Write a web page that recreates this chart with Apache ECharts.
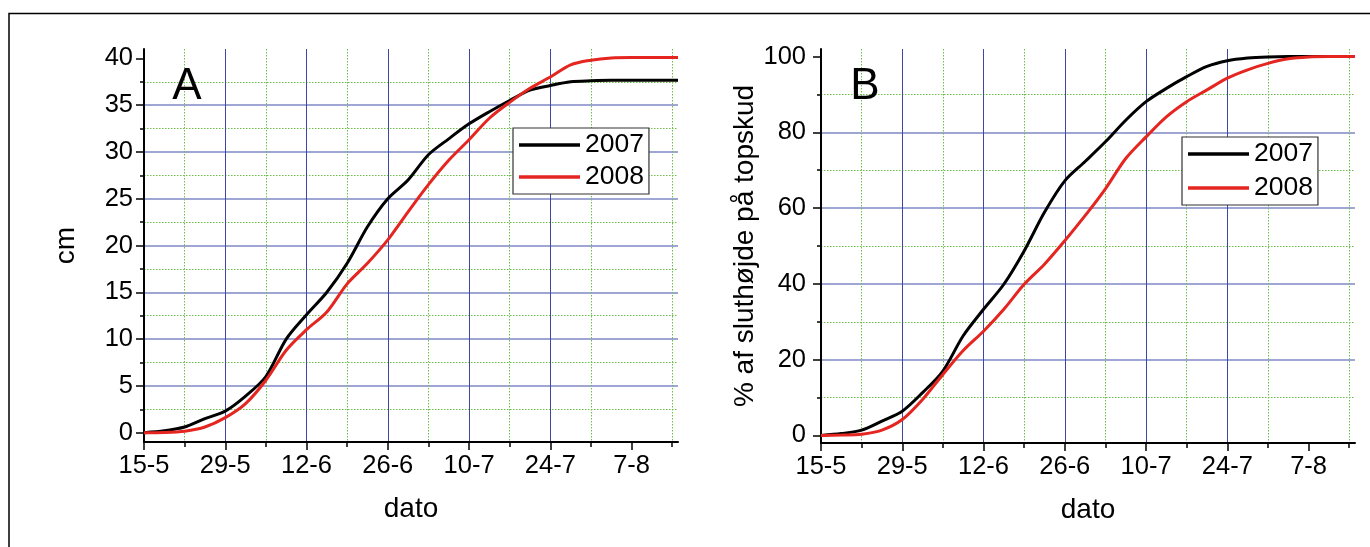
<!DOCTYPE html>
<html>
<head>
<meta charset="utf-8">
<script src="https://cdn.jsdelivr.net/npm/echarts@6/dist/echarts.min.js"></script>
<style>
  html, body { margin: 0; padding: 0; background: #fff; }
  #chart { width: 1370px; height: 547px; }
</style>
</head>
<body>
<div id="chart"></div>
<script>
// days after 15-5
const days = [0, 3.5, 7, 10.5, 14, 17.5, 21, 24.5, 28, 31.5, 35, 38.5, 42, 45.5, 49, 52.5, 56, 59.5, 63, 66.5, 70, 73.5, 77, 80.5, 84, 87.5, 92];
const dateTicks = [0, 14, 28, 42, 56, 70, 84];
const dateLabels = ['15-5', '29-5', '12-6', '26-6', '10-7', '24-7', '7-8'];
const years = ['2007', '2008'];

// A: height in cm
const height2007 = [0, 0.2, 0.6, 1.5, 2.3, 3.9, 6.0, 10.0, 12.6, 15.0, 18.1, 22.0, 25.0, 27.0, 29.7, 31.4, 33.0, 34.3, 35.5, 36.6, 37.1, 37.5, 37.6, 37.65, 37.65, 37.65, 37.65];
const height2008 = [0, 0.02, 0.15, 0.6, 1.6, 3.1, 5.6, 8.8, 11.0, 12.9, 15.9, 18.1, 20.6, 23.6, 26.5, 29.1, 31.3, 33.6, 35.3, 36.8, 38.0, 39.3, 39.8, 40.05, 40.1, 40.1, 40.1];

// B: % of final height
const pct2007 = [0, 0.5, 1.4, 3.8, 6.4, 11.3, 17.0, 26.3, 33.3, 39.9, 48.7, 58.9, 67.2, 72.3, 77.5, 83.2, 88.1, 91.6, 94.7, 97.4, 98.9, 99.6, 99.9, 100, 100, 100, 100];
const pct2008 = [0, 0.1, 0.3, 1.4, 4.2, 9.5, 16.1, 22.4, 27.5, 33.3, 39.9, 45.2, 51.4, 58.0, 65.1, 73.1, 78.8, 84.1, 88.1, 91.2, 94.3, 96.5, 98.2, 99.4, 99.9, 100, 100];

const cmTicks = [0, 5, 10, 15, 20, 25, 30, 35, 40];
const pctTicks = [0, 20, 40, 60, 80, 100];

const FONT = '"Liberation Sans", Arial, Helvetica, sans-serif';
const chart = echarts.init(document.getElementById('chart'));

function pairs(vals) {
  return days.map((d, i) => [d, vals[i]]);
}

function xAxisFor(gridIndex) {
  return {
    type: 'value', gridIndex: gridIndex,
    min: 0, max: 92, minInterval: 14, maxInterval: 14,
    name: 'dato', nameLocation: 'middle', nameGap: 53,
    nameTextStyle: { fontSize: 28, color: '#000', fontFamily: FONT },
    axisLine: { onZero: false, lineStyle: { color: '#000', width: 2 } },
    axisTick: { customValues: dateTicks, length: 8, lineStyle: { color: '#000', width: 1.5 } },
    minorTick: { show: true, splitNumber: 2, length: 5, lineStyle: { color: '#000', width: 1.5 } },
    axisLabel: {
      customValues: dateTicks, margin: 11, fontSize: 25.5, color: '#000', fontFamily: FONT,
      formatter: v => { const i = dateTicks.indexOf(v); return i < 0 ? '' : dateLabels[i]; }
    },
    splitLine: { show: true, showMinLine: false, showMaxLine: false, lineStyle: { color: '#3f47a6', width: 1 } },
    minorSplitLine: { show: true, lineStyle: { color: '#6cc04a', width: 1, type: [1.5, 1.5] } }
  };
}

function yAxisFor(gridIndex, min, max, step, ticks, name, nameGap, margin) {
  return {
    type: 'value', gridIndex: gridIndex,
    min: min, max: max, minInterval: step, maxInterval: step,
    name: name, nameLocation: 'middle', nameGap: nameGap,
    nameTextStyle: { fontSize: 28, color: '#000', fontFamily: FONT },
    axisLine: { onZero: false, lineStyle: { color: '#000', width: 2 } },
    axisTick: { customValues: ticks, length: 8, lineStyle: { color: '#000', width: 1.5 } },
    minorTick: { show: true, splitNumber: 2, length: 4, lineStyle: { color: '#000', width: 1.5 } },
    axisLabel: { customValues: ticks, margin: margin, fontSize: 25.5, color: '#000', fontFamily: FONT },
    splitLine: { show: true, showMinLine: false, showMaxLine: false, lineStyle: { color: '#8088c6', width: 1.6 } },
    minorSplitLine: { show: true, lineStyle: { color: '#6cc04a', width: 1, type: [1.5, 1.5] } }
  };
}

function lineSeries(name, color, xi, vals) {
  return {
    type: 'line', name: name, xAxisIndex: xi, yAxisIndex: xi,
    data: pairs(vals), symbol: 'none', smooth: 0.3,
    lineStyle: { color: color, width: 3 }, itemStyle: { color: color },
    z: 3
  };
}

function legendAt(left, top, gap) {
  return {
    data: years, left: left, top: top, orient: 'vertical',
    icon: 'rect', itemWidth: 61, itemHeight: 3.5, itemGap: gap,
    padding: [3, 5, 3, 6],
    borderColor: '#333', borderWidth: 1.2, backgroundColor: '#fff',
    textStyle: { fontSize: 26.5, color: '#000', fontFamily: FONT, lineHeight: 28 },
    selectedMode: false, z: 10
  };
}

chart.setOption({
  animation: false,
  backgroundColor: '#fff',
  grid: [
    { left: 144, top: 49, width: 534, height: 393 },
    { left: 821, top: 49, width: 534, height: 394 }
  ],
  xAxis: [xAxisFor(0), xAxisFor(1)],
  yAxis: [
    yAxisFor(0, -1, 41, 5, cmTicks, 'cm', 64, 11),
    yAxisFor(1, -2, 102, 20, pctTicks, '% af sluthøjde på topskud', 60, 15)
  ],
  legend: [legendAt(513, 128, 4), legendAt(1182, 137, 6)],
  series: [
    lineSeries(years[0], '#000000', 0, height2007),
    lineSeries(years[1], '#e5251f', 0, height2008),
    lineSeries(years[0], '#000000', 1, pct2007),
    lineSeries(years[1], '#e5251f', 1, pct2008)
  ],
  graphic: [
    { type: 'rect', silent: true, shape: { x: 9, y: 13.5, width: 1400, height: 600 },
      style: { fill: null, stroke: '#000', lineWidth: 1.5 } },
    { type: 'text', x: 187, y: 87, silent: true, z: 20,
      style: { text: 'A', fontSize: 44, fontFamily: FONT, fill: '#000', align: 'center', verticalAlign: 'middle' } },
    { type: 'text', x: 865, y: 87, silent: true, z: 20,
      style: { text: 'B', fontSize: 44, fontFamily: FONT, fill: '#000', align: 'center', verticalAlign: 'middle' } }
  ]
});
</script>
</body>
</html>
